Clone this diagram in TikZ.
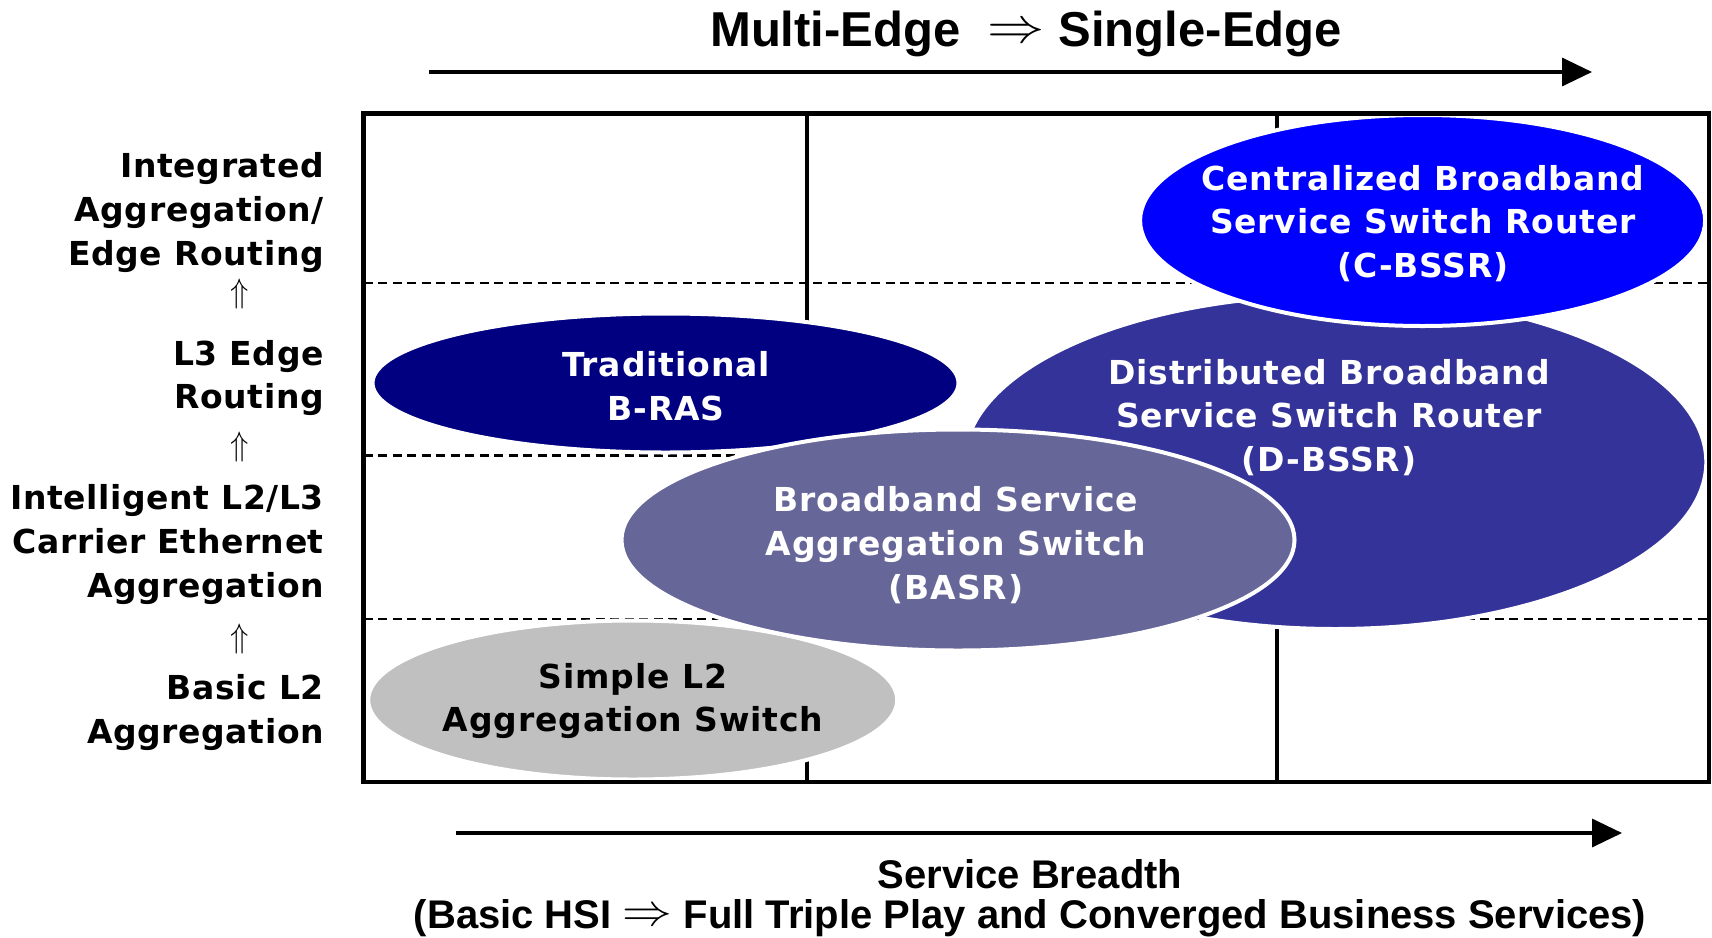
\documentclass[tikz,border=0pt]{standalone}
\usepackage{fontspec}
\usepackage{graphicx}
\usetikzlibrary{shapes.geometric,arrows.meta}
\newfontfamily\lblfont{DejaVu Sans}[LetterSpace=2.6]
\newfontfamily\sidefont{DejaVu Sans}[LetterSpace=1.8]
\newfontfamily\ttlfont{Liberation Sans}
\definecolor{cbssr}{RGB}{0,0,255}
\definecolor{dbssr}{RGB}{51,51,153}
\definecolor{bras}{RGB}{0,0,128}
\definecolor{basr}{RGB}{102,102,153}
\definecolor{simple}{RGB}{192,192,192}
\begin{document}
\begin{tikzpicture}[x=1pt,y=-1pt,
  blob/.style={ellipse, draw=white, line width=4pt, inner sep=0pt},
  lbl/.style={font=\lblfont\bfseries\fontsize{33}{43.7}\selectfont, align=center, inner sep=0pt},
  side/.style={font=\sidefont\bfseries\fontsize{33}{43.7}\selectfont, align=right, inner sep=0pt, anchor=east},
  gridline/.style={line width=4pt},
  dashline/.style={line width=2.6pt, dash pattern=on 9pt off 5.5pt},
  axis/.style={line width=3.5pt, -{Triangle[length=30pt,width=28pt]}},
  upar/.style={inner sep=0pt},
  ttl/.style={font=\ttlfont\bfseries\fontsize{49}{49}\selectfont, inner sep=0pt},
  btm/.style={font=\ttlfont\bfseries\fontsize{40}{40}\selectfont, inner sep=0pt},
]
\useasboundingbox (0,0) rectangle (1712,937);

% grid
\coordinate (bl) at (363.6,781.7);
\coordinate (tr) at (1708.7,113.5);
\coordinate (v1t) at (806.8,113.5); \coordinate (v1b) at (806.8,781.7);
\coordinate (v2t) at (1277.4,113.5); \coordinate (v2b) at (1277.4,781.7);
\draw[gridline] (v1t) -- (v1b);
\draw[gridline] (v2t) -- (v2b);
\coordinate (d1a) at (363.6,282.8); \coordinate (d1b) at (1708.7,282.8);
\coordinate (d2a) at (363.6,455.3); \coordinate (d2b) at (1708.7,455.3);
\coordinate (d3a) at (363.6,619.1); \coordinate (d3b) at (1708.7,619.1);
\draw[dashline] (d1a) -- (d1b);
\draw[dashline] (d2a) -- (d2b);
\draw[dashline] (d3a) -- (d3b);

% ellipses
\node[blob, fill=simple, minimum width=529pt, minimum height=159pt] (esimple) at (632.7,700) {};
\node[blob, fill=bras, minimum width=586pt, minimum height=139pt] (ebras) at (665.5,383) {};
\node[blob, fill=dbssr, minimum width=742pt, minimum height=334pt] (edbssr) at (1335.3,462) {};
\node[blob, fill=cbssr, minimum width=565pt, minimum height=211pt] (ecbssr) at (1422.6,220.5) {};
\node[blob, fill=basr, minimum width=673pt, minimum height=221pt] (ebasr) at (958,540) {};

% outer box
\draw[line width=4.4pt] (bl) rectangle (tr);

% ellipse texts
\node[lbl, text=white] (tcbssr) at (1423,223.5) {Centralized Broadband\\Service Switch Router\\(C-BSSR)};
\node[lbl, text=white] (tdbssr) at (1329,417.5) {Distributed Broadband\\Service Switch Router\\(D-BSSR)};
\node[lbl, text=white] (tbras) at (666,386) {Traditional\\B-RAS};
\node[lbl, text=white] (tbasr) at (956,545) {Broadband Service\\Aggregation Switch\\(BASR)};
\node[lbl, text=black] (tsimple) at (633,701) {Simple L2\\Aggregation Switch};

% left labels
\node[side] (l1) at (324,212.5) {Integrated\\Aggregation/\\Edge Routing};
\node[upar] (u1) at (240,294) {\scalebox{3}[3.4]{$\Uparrow$}};
\node[side] (l2) at (324,378) {L3 Edge\\Routing};
\node[upar] (u2) at (240,447) {\scalebox{3}[3.4]{$\Uparrow$}};
\node[side] (l3) at (324,544.4) {Intelligent L2/L3\\Carrier Ethernet\\Aggregation};
\node[upar] (u3) at (240,639) {\scalebox{3}[3.4]{$\Uparrow$}};
\node[side] (l4) at (324,712.5) {Basic L2\\Aggregation};

% title and top arrow
\node[ttl] (title) at (1026,34) {Multi-Edge \ \raisebox{4pt}{\scalebox{2.3}[2]{$\Rightarrow$}} Single-Edge};
\coordinate (ta) at (429,72); \coordinate (tb) at (1592,72);
\draw[axis] (ta) -- (tb);

% bottom arrow and texts
\coordinate (ba) at (456,833); \coordinate (bb) at (1622,833);
\draw[axis] (ba) -- (bb);
\node[btm] (sb1) at (1030,874.5) {Service Breadth};
\node[btm] (sb2) at (1030,918) {(Basic HSI \raisebox{3pt}{\scalebox{2}[1.8]{$\Rightarrow$}} Full Triple Play and Converged Business Services)};
\end{tikzpicture}
\end{document}
